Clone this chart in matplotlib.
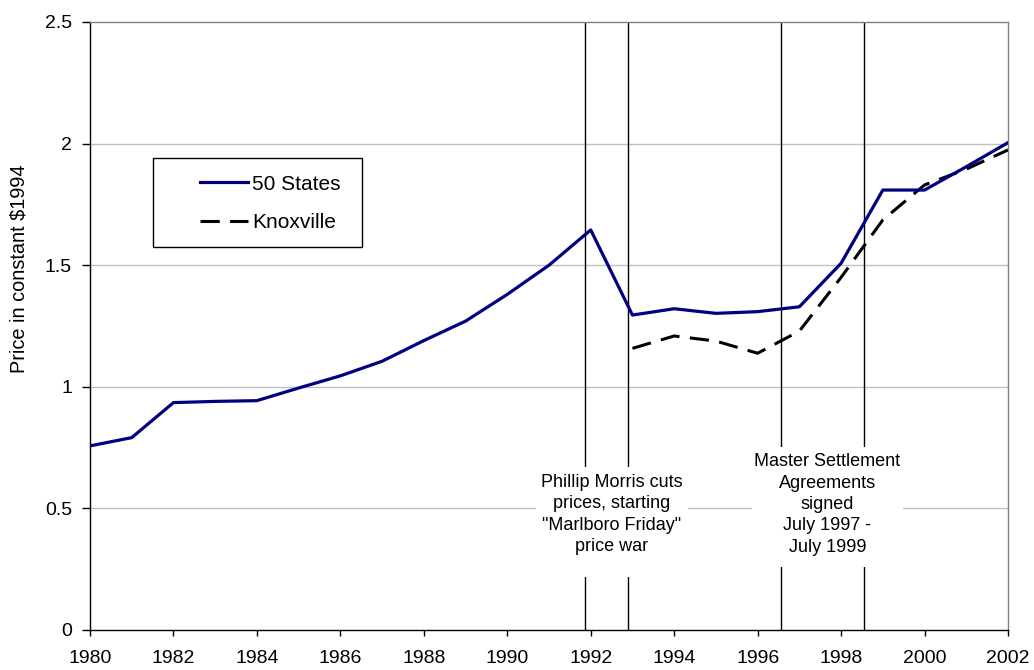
import matplotlib
matplotlib.use("Agg")
import matplotlib.pyplot as plt
from matplotlib.patches import Rectangle

plt.rcParams['font.family'] = ['Liberation Sans', 'DejaVu Sans']

years_states = list(range(1980, 2003))
states = [0.757, 0.791, 0.935, 0.940, 0.943, 0.995, 1.045, 1.105, 1.19, 1.27,
          1.38, 1.50, 1.645, 1.295, 1.321, 1.302, 1.309, 1.329, 1.508, 1.809,
          1.809, 1.905, 2.004]
years_knox = list(range(1993, 2003))
knox = [1.158, 1.209, 1.188, 1.138, 1.229, 1.45, 1.686, 1.83, 1.895, 1.974]

event_lines = [1991.86, 1992.89, 1996.56, 1998.55]
xticks = list(range(1980, 2003, 2))
yticks = [0, 0.5, 1, 1.5, 2, 2.5]
ytick_labels = ['0', '0.5', '1', '1.5', '2', '2.5']

fig = plt.figure(figsize=(10.34, 6.70), dpi=100)
ax = fig.add_axes([90/1034, 40/670, 918/1034, 608/670])

ax.set_xlim(1980, 2002)
ax.set_ylim(0, 2.5)

for y in [0.5, 1, 1.5, 2]:
    ax.axhline(y, color='#c0c0c0', lw=1.0, zorder=1)

for x in event_lines:
    ax.axvline(x, color='black', lw=1.0, zorder=2)

# white boxes behind annotations
ax.add_patch(Rectangle((1990.69, 0.218), 3.64, 0.452, facecolor='white',
                       edgecolor='none', zorder=3))
ax.add_patch(Rectangle((1995.86, 0.259), 3.62, 0.493, facecolor='white',
                       edgecolor='none', zorder=3))

ax.text(1992.50, 0.475, 'Phillip Morris cuts\nprices, starting\n"Marlboro Friday"\nprice war',
        ha='center', va='center', fontsize=13, linespacing=1.33, zorder=4)
ax.text(1997.67, 0.516, 'Master Settlement\nAgreements\nsigned\nJuly 1997 -\nJuly 1999',
        ha='center', va='center', fontsize=13, linespacing=1.33, zorder=4)

ax.plot(years_states, states, color='#000080', lw=2.3, zorder=6, label='50 States')
ax.plot(years_knox, knox, color='black', lw=2.2, linestyle=(0, (6.3, 3.4)), zorder=5,
        label='Knoxville')

ax.set_xticks(xticks)
ax.set_xticklabels([str(x) for x in xticks])
ax.set_yticks(yticks)
ax.set_yticklabels(ytick_labels)
ax.tick_params(axis='x', labelsize=14, direction='out', length=4.3, width=1,
               color='black', pad=10)
ax.tick_params(axis='y', labelsize=14, direction='out', length=5.8, width=1,
               color='black', pad=7.2)

for s in ['left', 'bottom']:
    ax.spines[s].set_color('black')
    ax.spines[s].set_linewidth(1.0)
for s in ['top', 'right']:
    ax.spines[s].set_color('#808080')
    ax.spines[s].set_linewidth(1.0)

ax.set_ylabel('Price in constant $1994', fontsize=14.3)
ax.yaxis.set_label_coords(-0.0675, 0.594)

# legend frame
ax.add_patch(Rectangle((63/918, (630-247)/608), 209/918, 89/608,
                       transform=ax.transAxes, facecolor='white', edgecolor='black',
                       lw=1.0, zorder=7))
leg = ax.legend(loc='center left', bbox_to_anchor=(110/918, (630-203.4)/608),
                frameon=False, fontsize=15, handlelength=2.3, handletextpad=0.2,
                labelspacing=0.95, borderpad=0, borderaxespad=0)
leg.set_zorder(8)

fig.savefig('out.png', dpi=100)
